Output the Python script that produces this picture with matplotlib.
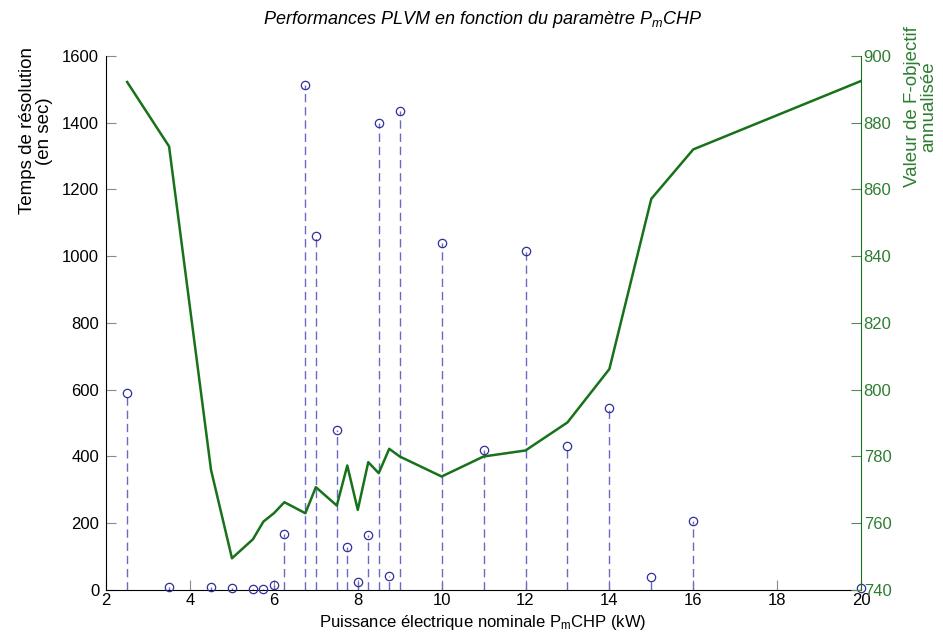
"""Performances PLVM en fonction de P_m CHP: temps de résolution (stem) + F-objectif (ligne)."""

import matplotlib

matplotlib.use("Agg")
import matplotlib.pyplot as plt

# temps de résolution (s) pour chaque valeur de P_m CHP
p_stem = [2.5, 3.5, 4.5, 5, 5.5, 5.75, 6, 6.25, 6.75, 7, 7.5, 7.75, 8, 8.25,
          8.5, 8.75, 9, 10, 11, 12, 13, 14, 15, 16, 20]
temps = [591, 8, 10, 5, 4, 4, 15, 168, 1513, 1062, 478, 130, 25, 165,
         1398, 43, 1435, 1041, 418, 1017, 430, 546, 39, 208, 5]

# valeur de la fonction objectif annualisée
p_obj = [2.5, 3.5, 4.5, 5, 5.5, 5.75, 6, 6.25, 6.75, 7, 7.5, 7.75, 8, 8.25,
         8.5, 8.75, 9, 10, 11, 12, 13, 14, 15, 16, 20]
f_obj = [892.2, 872.9, 776, 749.5, 755.2, 760.5, 763, 766.3, 763, 770.8, 765.3,
         777.3, 764, 778.3, 775, 782.3, 780, 774, 780, 781.8, 790.2, 806.2,
         857.2, 872, 892.5]

x_ticks = list(range(2, 21, 2))
left_ticks = list(range(0, 1601, 200))
right_ticks = list(range(740, 901, 20))

GREEN = "#17721a"
GREEN_TXT = "#2e7d32"
STEM = "#6a6ac2"
MARK = "#30309a"

plt.rcParams["font.family"] = ["Liberation Sans", "DejaVu Sans"]
plt.rcParams["font.size"] = 12
plt.rcParams["mathtext.fontset"] = "custom"
plt.rcParams["mathtext.rm"] = "Liberation Sans"
plt.rcParams["mathtext.it"] = "Liberation Sans:italic"

fig = plt.figure(figsize=(9.43, 6.39), dpi=100)
ax = fig.add_axes([0.1126, 0.0767, 0.8004, 0.8357])

# stems
ax.vlines(p_stem, 0, temps, colors=STEM, linestyles=(0, (6, 3.5)), linewidth=1.0)
ax.plot(p_stem, temps, "o", mfc="none", mec=MARK, ms=6, mew=0.9, clip_on=False, zorder=3)

ax.set_xlim(2, 20)
ax.set_ylim(0, 1600)
ax.set_xticks(x_ticks)
ax.set_yticks(left_ticks)
ax.tick_params(direction="in", length=7, color="#8a8a8a", labelsize=12)
ax.tick_params(axis="y", pad=5)
ax.tick_params(axis="x", pad=2)
for side in ("top", "right"):
    ax.spines[side].set_visible(False)
ax.spines["left"].set_color("black")
ax.spines["bottom"].set_color("black")

ax2 = ax.twinx()
ax2.plot(p_obj, f_obj, color=GREEN, linewidth=1.8)
ax2.set_ylim(740, 900)
ax2.set_yticks(right_ticks)
ax2.tick_params(axis="y", direction="in", length=7, color="#5a8a5a",
                labelcolor=GREEN_TXT, labelsize=12, pad=2)
for side in ("top", "left", "bottom"):
    ax2.spines[side].set_visible(False)
ax2.spines["right"].set_color(GREEN)

fig.text(0.512, 1 - 19 / 639, r"Performances PLVM en fonction du paramètre $\mathit{P_m}$CHP",
         ha="center", va="center", fontsize=13, fontstyle="italic")
fig.text(0.512, 1 - 622 / 639, r"Puissance électrique nominale $\mathrm{P_m}$CHP (kW)",
         ha="center", va="center", fontsize=12)
fig.text(36 / 943, 1 - 131 / 639, "Temps de résolution\n(en sec)",
         ha="center", va="center", rotation=90, fontsize=13.5, linespacing=0.95)
fig.text(921 / 943, 1 - 107 / 639, "Valeur de F-objectif\nannualisée",
         ha="center", va="center", rotation=90, fontsize=13.5, linespacing=0.95,
         color=GREEN_TXT)

fig.savefig("out.png", dpi=100)
plt.close(fig)
